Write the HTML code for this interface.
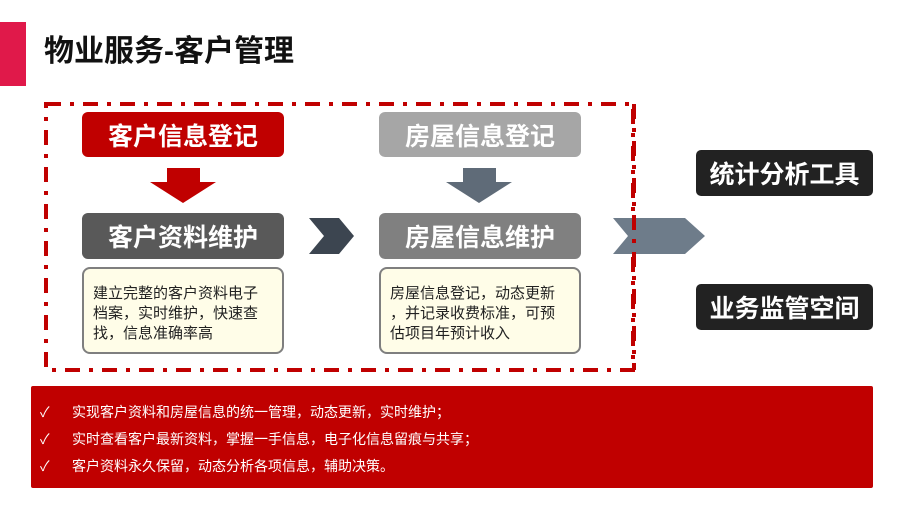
<!DOCTYPE html>
<html><head><meta charset="utf-8"><style>
*{margin:0;padding:0;box-sizing:border-box}
body{width:900px;height:506px;background:#fff;position:relative;overflow:hidden;font-family:"Liberation Sans","Noto Sans CJK SC",sans-serif}
.a{position:absolute}
.btn{position:absolute;display:flex;align-items:center;justify-content:center;color:#fff;font-weight:bold;font-size:25px;border-radius:6px}
.txt{position:absolute;background:#fffde8;border:2px solid #7f7f7f;border-radius:8px;font-size:15px;line-height:20px;color:#222;padding:15px 16px 0 9px;line-break:anywhere}
.ln{position:absolute;left:40px;color:#fff;font-size:14px}
.ln span{position:absolute;left:32px;white-space:nowrap}
</style></head><body>
<div class="a" style="left:0;top:22px;width:26px;height:64px;background:#e0194a"></div>
<div class="a" style="left:44px;top:33px;font-size:30px;font-weight:bold;color:#111;line-height:38px">物业服务-客户管理</div>
<svg class="a" style="left:0;top:0" width="900" height="506">
<rect x="46" y="104" width="587" height="266" fill="none" stroke="#c00000" stroke-width="4" stroke-dasharray="15 9 4 9"/>
<polygon points="167,168 200,168 200,182 216,182 183,203 150,182 167,182" fill="#c00000"/>
<polygon points="463,168 496,168 496,182 512,182 479,203 446,182 463,182" fill="#5f6b78"/>
<polygon points="309,218 339,218 354,236 339,254 309,254 324,236" fill="#3c4550"/>
<polygon points="613,218 685,218 705,236 685,254 613,254 628,236" fill="#6e7c8a"/>
<line x1="634" y1="104" x2="634" y2="370" stroke="#c00000" stroke-width="4" stroke-dasharray="15 9 4 9"/>
</svg>
<div class="btn" style="left:82px;top:112px;width:202px;height:45px;background:#c00000">客户信息登记</div>
<div class="btn" style="left:379px;top:112px;width:202px;height:45px;background:#a6a6a6">房屋信息登记</div>
<div class="btn" style="left:82px;top:213px;width:202px;height:46px;background:#595959">客户资料维护</div>
<div class="btn" style="left:379px;top:213px;width:202px;height:46px;background:#808080">房屋信息维护</div>
<div class="txt" style="left:82px;top:267px;width:202px;height:87px">建立完整的客户资料电子档案，实时维护，快速查找，信息准确率高</div>
<div class="txt" style="left:379px;top:267px;width:202px;height:87px">房屋信息登记，动态更新，并记录收费标准，可预估项目年预计收入</div>
<div class="btn" style="left:696px;top:150px;width:177px;height:46px;background:#222;border-radius:5px">统计分析工具</div>
<div class="btn" style="left:696px;top:284px;width:177px;height:46px;background:#222;border-radius:5px">业务监管空间</div>
<div class="a" style="left:31px;top:386px;width:842px;height:102px;background:#c00000;border-radius:2px"></div>
<div class="ln" style="top:402px">✓<span>实现客户资料和房屋信息的统一管理，动态更新，实时维护；</span></div>
<div class="ln" style="top:429px">✓<span>实时查看客户最新资料，掌握一手信息，电子化信息留痕与共享；</span></div>
<div class="ln" style="top:456px">✓<span>客户资料永久保留，动态分析各项信息，辅助决策。</span></div>
</body></html>
